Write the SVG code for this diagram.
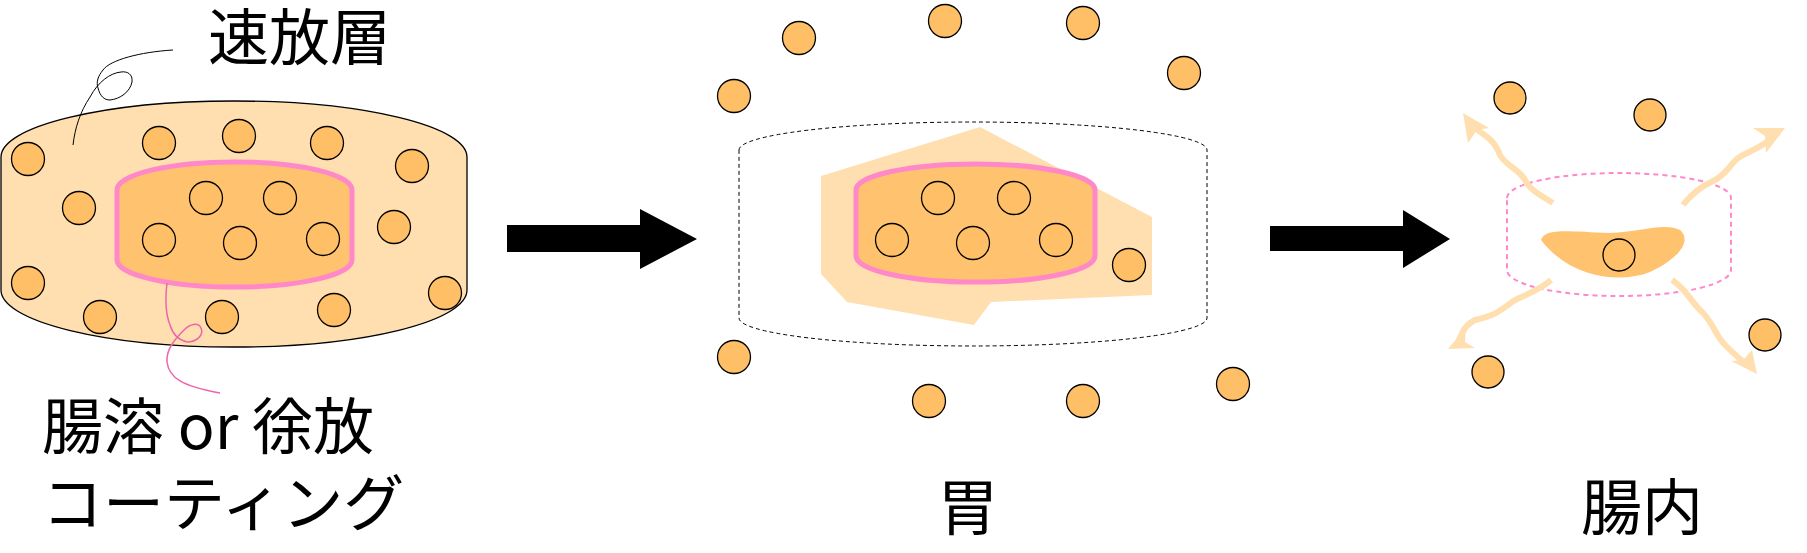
<svg xmlns="http://www.w3.org/2000/svg" width="1807" height="553" viewBox="0 0 1807 553">
<style>
.dot{fill:#ffbf66;stroke:#000;stroke-width:1.3}
.t{font-family:"Noto Sans CJK JP","Noto Sans",sans-serif;font-size:61px;fill:#000}
.wv{fill:none;stroke:#ffdfb0;stroke-width:6}
.wh{fill:#ffdfb0}
</style>
<rect width="1807" height="553" fill="#fff"/>
<g id="tablet">
<path d="M1,157 A233,56 0 0 1 467,157 L467,290 A233,57 0 0 1 1,290 Z" fill="#ffdfb0" stroke="#000" stroke-width="1.3"/>
<path d="M117,190 A117,28 0 0 1 352,190 L352,260 A117,27 0 0 1 117,260 Z" fill="#ffc370" stroke="#ff88c8" stroke-width="5"/>
<g>
<circle class="dot" cx="28" cy="159" r="16.5"/><circle class="dot" cx="159" cy="143" r="16.5"/><circle class="dot" cx="239" cy="136" r="16.5"/><circle class="dot" cx="327" cy="143" r="16.5"/><circle class="dot" cx="412" cy="166" r="16.5"/><circle class="dot" cx="79" cy="208" r="16.5"/><circle class="dot" cx="394" cy="227" r="16.5"/><circle class="dot" cx="28" cy="283" r="16.5"/><circle class="dot" cx="100" cy="317" r="16.5"/><circle class="dot" cx="222" cy="317" r="16.5"/><circle class="dot" cx="334" cy="310" r="16.5"/><circle class="dot" cx="445" cy="293" r="16.5"/>
<circle class="dot" cx="206" cy="198" r="16.5"/><circle class="dot" cx="280" cy="198" r="16.5"/><circle class="dot" cx="159" cy="240" r="16.5"/><circle class="dot" cx="240" cy="243" r="16.5"/><circle class="dot" cx="323" cy="239" r="16.5"/>
</g>
</g>
<g id="labels">
<text class="t" x="208" y="60">速放層</text>
<text class="t" x="42" y="449">腸溶 or 徐放</text>
<text class="t" x="42" y="526">コーティング</text>
<text class="t" x="968" y="530" text-anchor="middle">胃</text>
<text class="t" x="1642" y="530" text-anchor="middle">腸内</text>
</g>
<g id="stomach">
<path d="M739,150 A234,28 0 0 1 1207,150 L1207,318 A234,28 0 0 1 739,318 Z" fill="none" stroke="#000" stroke-width="1" stroke-dasharray="4,3"/>
<polygon points="821,176 980,127 1152,217 1152,295 991,302 974,325 847,302 821,274" fill="#ffdfb0"/>
<path d="M856,190 A119,26 0 0 1 1095,190 L1095,256 A119,26 0 0 1 856,256 Z" fill="#ffc370" stroke="#ff88c8" stroke-width="5"/>
<circle class="dot" cx="938" cy="198" r="16.5"/><circle class="dot" cx="1014" cy="198" r="16.5"/><circle class="dot" cx="892" cy="240" r="16.5"/><circle class="dot" cx="973" cy="243" r="16.5"/><circle class="dot" cx="1056" cy="240" r="16.5"/><circle class="dot" cx="1129" cy="265" r="16.5"/>
<circle class="dot" cx="799" cy="38" r="16.5"/><circle class="dot" cx="945" cy="21" r="16.5"/><circle class="dot" cx="1083" cy="23" r="16.5"/><circle class="dot" cx="1184" cy="73" r="16.5"/><circle class="dot" cx="734" cy="96" r="16.5"/><circle class="dot" cx="734" cy="357" r="16.5"/><circle class="dot" cx="929" cy="401" r="16.5"/><circle class="dot" cx="1083" cy="401" r="16.5"/><circle class="dot" cx="1233" cy="384" r="16.5"/>
</g>
<g id="intestine">
<path d="M1507,198 A112,25 0 0 1 1731,198 L1731,270 A112,26 0 0 1 1507,270 Z" fill="none" stroke="#ff88c8" stroke-width="2" stroke-dasharray="5,4"/>
<path d="M1541,240 C1545,228 1565,231 1610,233 C1640,232 1665,222 1680,230 C1692,240 1680,258 1650,272 C1620,284 1570,278 1541,240 Z" fill="#ffc370"/>
<circle class="dot" cx="1619" cy="255" r="16"/>
<circle class="dot" cx="1510" cy="98" r="16"/><circle class="dot" cx="1650" cy="115" r="16"/><circle class="dot" cx="1488" cy="372" r="16"/><circle class="dot" cx="1765" cy="335" r="16"/>
</g>
<g id="connectors">
<path d="M173,50 C140,52 110,60 103,70 C98,76 96,82 98,88 C100,96 104,100 110,100 C120,99 130,92 132,82 C133,74 127,71 121,72 C110,73 98,82 90,97 C80,112 75,128 73,145" fill="none" stroke="#000" stroke-width="1"/>
<path d="M167,283 C165,300 166,315 170,325 C173,335 178,340 187,342 C197,342 204,335 201,328 C198,322 190,324 184,330 C174,340 166,350 167,362 C169,378 182,386 220,393" fill="none" stroke="#ee66aa" stroke-width="1.5"/>
<polygon points="507,225 640,225 640,209 697,239 640,269 640,252 507,252" fill="#000"/>
<polygon points="1270,226 1403,226 1403,210 1450,239 1403,268 1403,251 1270,251" fill="#000"/>
<path class="wv" d="M1553,203 C1540,195 1530,190 1525,180 C1520,170 1505,165 1500,155 C1495,142 1490,138 1470,125"/>
<polygon class="wh" points="1463,113 1489,128 1477,130 1468,143"/>
<path class="wv" d="M1683,205 C1695,190 1705,185 1715,180 C1725,175 1730,165 1738,158 C1750,150 1760,150 1778,133"/>
<polygon class="wh" points="1785,128 1753,128 1765,136 1766,153"/>
<path class="wv" d="M1551,280 C1540,290 1525,295 1515,300 C1500,310 1498,315 1475,320 C1465,325 1462,332 1457,345"/>
<polygon class="wh" points="1448,349 1475,348 1465,342 1466,327"/>
<path class="wv" d="M1672,280 C1685,288 1690,300 1700,310 C1712,320 1715,335 1725,345 C1735,355 1740,360 1752,368"/>
<polygon class="wh" points="1757,374 1731,361 1743,360 1752,350"/>
</g>
</svg>
